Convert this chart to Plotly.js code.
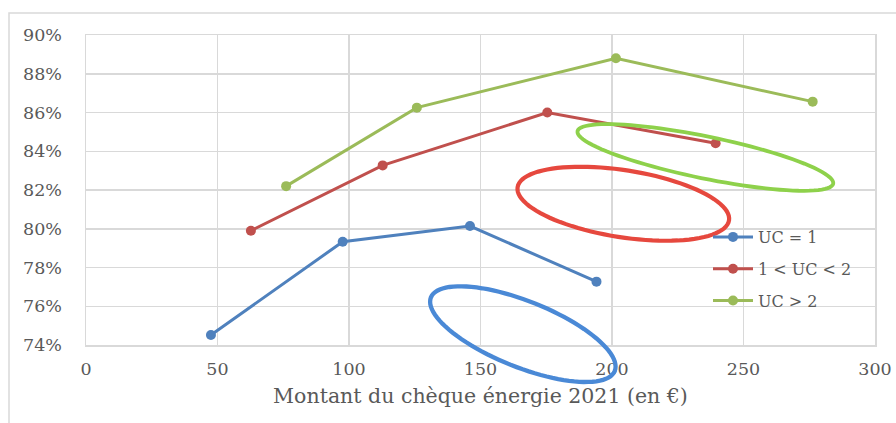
<!DOCTYPE html>
<html>
<head>
<meta charset="utf-8">
<script src="https://cdn.plot.ly/plotly-3.0.1.min.js"></script>
<style>html,body{margin:0;padding:0;background:#fff;}#chart{width:896px;height:423px;}</style>
</head>
<body>
<div id="chart"></div>
<script>
// Data
const seriesNames = ["UC = 1", "1 < UC < 2", "UC > 2"];
const uc1X = [47.5, 97.6, 146.0, 194.1];
const uc1Y = [74.52, 79.33, 80.14, 77.27];
const uc12X = [62.7, 112.8, 175.4, 239.4];
const uc12Y = [79.9, 83.27, 86.0, 84.41];
const uc2X = [76.1, 125.8, 201.5, 276.3];
const uc2Y = [82.2, 86.25, 88.8, 86.56];
const xTicks = [0, 50, 100, 150, 200, 250, 300];
const yTicks = [74, 76, 78, 80, 82, 84, 86, 88, 90];

const colors = ["#4F81BD", "#C0504D", "#9BBB59"];
const ellipseColors = ["#4A89D6", "#E6483E", "#8ED14B"];

const W = 896, H = 423;
const margin = {l: 86, r: 21, t: 35, b: 78};
const plotW = W - margin.l - margin.r, plotH = H - margin.t - margin.b;
const xRange = [0, 300], yRange = [74, 90];

// Hand-drawn ellipse annotations: center in data units, radii in px, tilt in degrees
const ellipses = [
  {cx: 166.1, cy: 74.56, a: 99, b: 33, ang: 21.8, color: ellipseColors[0], w: 4.3},
  {cx: 204.3, cy: 81.29, a: 107, b: 33.5, ang: 8.9, color: ellipseColors[1], w: 4.2},
  {cx: 235.5, cy: 83.68, a: 130.5, b: 21, ang: 11.6, color: ellipseColors[2], w: 3.8}
];
function ellipsePath(e) {
  const th = e.ang * Math.PI / 180;
  const cxp = (e.cx - xRange[0]) / (xRange[1] - xRange[0]);
  const cyp = (e.cy - yRange[0]) / (yRange[1] - yRange[0]);
  let d = "";
  const N = 96;
  for (let i = 0; i <= N; i++) {
    const t = 2 * Math.PI * i / N;
    const px = e.a * Math.cos(t) * Math.cos(th) - e.b * Math.sin(t) * Math.sin(th);
    const py = e.a * Math.cos(t) * Math.sin(th) + e.b * Math.sin(t) * Math.cos(th);
    const x = cxp + px / plotW;
    const y = cyp - py / plotH;
    d += (i === 0 ? "M" : "L") + x.toFixed(5) + "," + y.toFixed(5);
  }
  return d + "Z";
}

const font = "'DejaVu Serif', 'Liberation Serif', serif";
const xs = [uc1X, uc12X, uc2X], ys = [uc1Y, uc12Y, uc2Y];
const traces = seriesNames.map((n, i) => ({
  type: "scatter", mode: "lines+markers", name: n,
  x: xs[i], y: ys[i],
  line: {color: colors[i], width: 3},
  marker: {color: colors[i], size: 10},
  legendgroup: "g" + i
}));

const shapes = ellipses.map(e => ({
  type: "path", xref: "paper", yref: "paper", path: ellipsePath(e),
  line: {color: e.color, width: e.w}, fillcolor: "rgba(0,0,0,0)", layer: "above"
}));
// outer frame
shapes.push({type: "rect", xref: "paper", yref: "paper",
  x0: (9 - margin.l) / plotW, x1: 1.2, y0: -0.5, y1: (H - margin.b - 13) / plotH,
  line: {color: "#D9D9D9", width: 1.5}, layer: "below"});

const layout = {
  width: W, height: H, margin: margin,
  paper_bgcolor: "#fff", plot_bgcolor: "#fff",
  showlegend: true,
  legend: {x: (708 - margin.l) / plotW, y: (H - margin.b - 220) / plotH, xanchor: "left", yanchor: "top",
    bgcolor: "rgba(0,0,0,0)", font: {family: font, size: 16, color: "#595959"}, tracegroupgap: 8, itemwidth: 40},
  xaxis: {range: xRange, tickvals: xTicks, ticktext: xTicks.map(String), showgrid: true, gridcolor: "#D9D9D9", gridwidth: 1.5,
    zeroline: false, showline: true, linecolor: "#D9D9D9", linewidth: 1.5, mirror: true, ticks: "",
    tickfont: {family: font, size: 17.5, color: "#595959"}, ticklabelstandoff: 7,
    title: {text: "Montant du chèque énergie 2021 (en €)", font: {family: font, size: 20.5, color: "#595959"}, standoff: 11}},
  yaxis: {range: yRange, tickvals: yTicks, ticktext: yTicks.map(v => v + "%"), showgrid: true, gridcolor: "#D9D9D9", gridwidth: 1.5,
    zeroline: false, showline: true, linecolor: "#D9D9D9", linewidth: 1.5, mirror: true, ticks: "",
    tickfont: {family: font, size: 17.5, color: "#595959"}, ticklabelstandoff: 19},
  shapes: shapes
};
Plotly.newPlot("chart", traces, layout, {displayModeBar: false, staticPlot: true});
</script>
</body>
</html>
